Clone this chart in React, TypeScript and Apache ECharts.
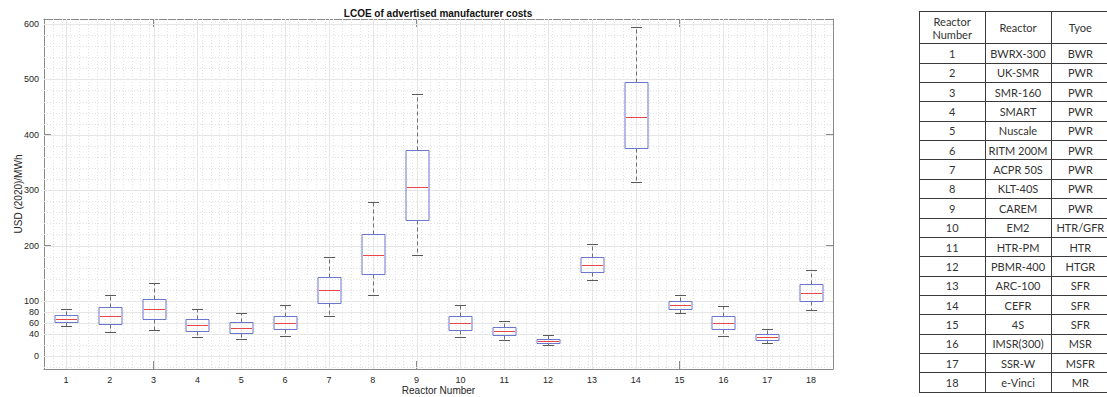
import React, { useEffect, useRef } from 'react';
import * as echarts from 'echarts';

// ---------- data ----------
const reactorNumbers = ['1', '2', '3', '4', '5', '6', '7', '8', '9', '10', '11', '12', '13', '14', '15', '16', '17', '18'];
const reactorNames = ['BWRX-300', 'UK-SMR', 'SMR-160', 'SMART', 'Nuscale', 'RITM 200M', 'ACPR 50S', 'KLT-40S', 'CAREM', 'EM2', 'HTR-PM', 'PBMR-400', 'ARC-100', 'CEFR', '4S', 'IMSR(300)', 'SSR-W', 'e-Vinci'];
const reactorTypes = ['BWR', 'PWR', 'PWR', 'PWR', 'PWR', 'PWR', 'PWR', 'PWR', 'PWR', 'HTR/GFR', 'HTR', 'HTGR', 'SFR', 'SFR', 'SFR', 'MSR', 'MSFR', 'MR'];

const whiskerLow = [55, 43, 48, 34, 32, 37, 73, 111, 183, 35, 30, 20, 137, 314, 78, 37, 24, 83];
const quartile1 = [61, 58, 67, 45, 42, 49, 96, 148, 246, 47, 38, 24, 152, 376, 85, 49, 29, 99];
const medianValues = [67, 72, 85, 56, 51, 60, 119, 183, 305, 60, 45, 28, 165, 432, 92, 60, 34, 114];
const quartile3 = [74, 89, 104, 68, 61, 73, 143, 221, 372, 72, 52, 32, 180, 495, 99, 72, 40, 130];
const whiskerHigh = [85, 111, 133, 86, 78, 92, 180, 279, 473, 92, 64, 39, 203, 594, 110, 90, 49, 155];

const yTickValues = [0, 40, 60, 80, 100, 200, 300, 400, 500, 600];
const yMin = -23;
const yMax = 609;

const tableHeaders = ['Reactor\nNumber', 'Reactor', 'Tyoe'];

// ---------- styles ----------
const AXIS_COLOR = '#8a8a8a';
const TEXT_COLOR = '#262626';
const FONT = '"Liberation Sans", Arial, sans-serif';

const crisp = (v: number) => Math.round(v) + 0.5;

function buildTable(): any[] {
  const left = 919;
  const colX = [919, 985.3, 1050.7, 1110];
  const top = 11;
  const headerBottom = 43.3;
  const bottom = 391.7;
  const rowH = (bottom - headerBottom) / reactorNumbers.length;
  const els: any[] = [];
  const lineStyle = { stroke: '#3a3a3a', lineWidth: 1 };
  const ys = [top, headerBottom];
  for (let i = 1; i <= reactorNumbers.length; i++) ys.push(headerBottom + i * rowH);
  ys.forEach((y) => {
    els.push({ type: 'line', shape: { x1: left, y1: crisp(y), x2: 1110, y2: crisp(y) }, style: lineStyle, silent: true });
  });
  colX.slice(0, 3).forEach((x) => {
    els.push({ type: 'line', shape: { x1: crisp(x), y1: crisp(top), x2: crisp(x), y2: crisp(bottom) }, style: lineStyle, silent: true });
  });
  const centers = [(colX[0] + colX[1]) / 2, (colX[1] + colX[2]) / 2, (colX[2] + colX[3]) / 2];
  const tfont = '11px Lato, "Open Sans", sans-serif';
  tableHeaders.forEach((h, c) => {
    els.push({
      type: 'text', x: centers[c], y: (top + headerBottom) / 2 + 0.5, silent: true,
      style: { text: h, font: tfont, fill: '#333333', align: 'center', verticalAlign: 'middle', lineHeight: 13 },
    });
  });
  reactorNumbers.forEach((n, r) => {
    const cy = headerBottom + (r + 0.5) * rowH + 0.5;
    [n, reactorNames[r], reactorTypes[r]].forEach((t, c) => {
      els.push({
        type: 'text', x: centers[c], y: cy, silent: true,
        style: { text: t, font: tfont, fill: '#333333', align: 'center', verticalAlign: 'middle' },
      });
    });
  });
  return els;
}

export default function App() {
  const ref = useRef<HTMLDivElement>(null);

  useEffect(() => {
    document.body.style.margin = '0';
    if (!ref.current) return;
    const chart = echarts.init(ref.current, null, { renderer: 'svg' });

    const boxData = reactorNumbers.map((_, i) => [i, whiskerLow[i], quartile1[i], medianValues[i], quartile3[i], whiskerHigh[i]]);

    const option: any = {
      animation: false,
      backgroundColor: '#ffffff',
      textStyle: { fontFamily: FONT },
      grid: { left: 44, top: 19, width: 789, height: 350, containLabel: false, outerBoundsMode: 'none' },
      xAxis: [
        {
          type: 'category',
          data: reactorNumbers,
          boundaryGap: true,
          position: 'bottom',
          name: 'Reactor Number',
          nameLocation: 'middle',
          nameGap: 16.5,
          nameMoveOverlap: false,
          nameTextStyle: { fontSize: 10, color: TEXT_COLOR, fontFamily: FONT },
          axisLine: { show: true, onZero: false, lineStyle: { color: AXIS_COLOR, width: 1 } },
          axisTick: { show: true, inside: true, alignWithLabel: true, length: 8, lineStyle: { color: AXIS_COLOR } },
          axisLabel: { fontSize: 9, color: TEXT_COLOR, margin: 6, fontFamily: FONT },
          splitLine: { show: false },
        },
        {
          type: 'category',
          data: reactorNumbers,
          boundaryGap: true,
          position: 'top',
          axisLine: { show: true, onZero: false, lineStyle: { color: AXIS_COLOR, width: 1 } },
          axisTick: { show: true, inside: true, alignWithLabel: true, length: 8, lineStyle: { color: AXIS_COLOR } },
          axisLabel: { show: false },
          splitLine: { show: false },
        },
      ],
      yAxis: [
        {
          type: 'value',
          min: yMin,
          max: yMax,
          position: 'left',
          name: 'USD (2020)/MWh',
          nameLocation: 'middle',
          nameGap: 21,
          nameMoveOverlap: false,
          nameTextStyle: { fontSize: 10, color: TEXT_COLOR, fontFamily: FONT },
          axisLine: { show: true, onZero: false, lineStyle: { color: AXIS_COLOR, width: 1 } },
          axisTick: { show: true, inside: true, length: 7, customValues: yTickValues, lineStyle: { color: AXIS_COLOR } },
          axisLabel: { fontSize: 9, color: TEXT_COLOR, margin: 5, customValues: yTickValues, fontFamily: FONT },
          splitLine: { show: false },
        },
        {
          type: 'value',
          min: yMin,
          max: yMax,
          position: 'right',
          axisLine: { show: true, onZero: false, lineStyle: { color: AXIS_COLOR, width: 1 } },
          axisTick: { show: true, inside: true, length: 7, customValues: yTickValues, lineStyle: { color: AXIS_COLOR } },
          axisLabel: { show: false },
          splitLine: { show: false },
        },
      ],
      series: [
        {
          type: 'custom',
          name: 'grid',
          silent: true,
          z: 1,
          xAxisIndex: 0,
          yAxisIndex: 0,
          data: [[0, 0]],
          encode: { x: 0, y: 1 },
          renderItem: (params: any, api: any) => {
            const cs = params.coordSys;
            const step = cs.width / reactorNumbers.length;
            const children: any[] = [];
            const x0 = cs.x, x1 = cs.x + cs.width, y0 = cs.y, y1 = cs.y + cs.height;
            for (let j = 1; j < reactorNumbers.length * 5; j++) {
              const u = j / 5;
              const rel = u - 0.5;
              if (Math.abs(rel - Math.round(rel)) < 1e-6) continue;
              const x = crisp(x0 + u * step);
              children.push({ type: 'line', shape: { x1: x, y1: y0, x2: x, y2: y1 }, style: { stroke: '#e2e2e2', lineWidth: 1, lineDash: [1, 2] } });
            }
            for (let v = -20; v <= 600; v += 20) {
              if (yTickValues.indexOf(v) >= 0) continue;
              const y = crisp(api.coord([0, v])[1]);
              children.push({ type: 'line', shape: { x1: x0, y1: y, x2: x1, y2: y }, style: { stroke: '#e2e2e2', lineWidth: 1, lineDash: [1, 2] } });
            }
            for (let i = 0; i < reactorNumbers.length; i++) {
              const x = crisp(api.coord([i, 0])[0]);
              children.push({ type: 'line', shape: { x1: x, y1: y0, x2: x, y2: y1 }, style: { stroke: '#e6e6e6', lineWidth: 1 } });
            }
            yTickValues.forEach((v) => {
              const y = crisp(api.coord([0, v])[1]);
              children.push({ type: 'line', shape: { x1: x0, y1: y, x2: x1, y2: y }, style: { stroke: '#e6e6e6', lineWidth: 1 } });
            });
            return { type: 'group', children };
          },
        },
        {
          type: 'custom',
          name: 'LCOE',
          z: 3,
          xAxisIndex: 0,
          yAxisIndex: 0,
          data: boxData,
          encode: { x: 0, y: [1, 2, 3, 4, 5] },
          renderItem: (params: any, api: any) => {
            const idx = api.value(0);
            const pLow = api.coord([idx, api.value(1)]);
            const pQ1 = api.coord([idx, api.value(2)]);
            const pMed = api.coord([idx, api.value(3)]);
            const pQ3 = api.coord([idx, api.value(4)]);
            const pHigh = api.coord([idx, api.value(5)]);
            const band = api.size([1, 0])[0];
            const x = crisp(pMed[0]);
            const bw = Math.round(band * 0.52);
            const cw = Math.round(band * 0.25);
            const yLow = crisp(pLow[1]);
            const yQ1 = crisp(pQ1[1]);
            const yMed = crisp(pMed[1]);
            const yQ3 = crisp(pQ3[1]);
            const yHigh = crisp(pHigh[1]);
            const dash = { stroke: '#6e6e6e', lineWidth: 1, lineDash: [4, 3] };
            const cap = { stroke: '#5a5a5a', lineWidth: 1 };
            return {
              type: 'group',
              children: [
                { type: 'line', shape: { x1: x, y1: yQ3, x2: x, y2: yHigh }, style: dash },
                { type: 'line', shape: { x1: x, y1: yQ1, x2: x, y2: yLow }, style: dash },
                { type: 'line', shape: { x1: x - cw / 2, y1: yHigh, x2: x + cw / 2, y2: yHigh }, style: cap },
                { type: 'line', shape: { x1: x - cw / 2, y1: yLow, x2: x + cw / 2, y2: yLow }, style: cap },
                { type: 'rect', shape: { x: x - bw / 2, y: yQ3, width: bw, height: yQ1 - yQ3 }, style: { fill: 'rgba(0,0,0,0)', stroke: '#6b77cc', lineWidth: 1 } },
                { type: 'line', shape: { x1: x - bw / 2 + 1, y1: yMed, x2: x + bw / 2 - 1, y2: yMed }, style: { stroke: '#e8474a', lineWidth: 1 } },
              ],
            };
          },
        },
      ],
      graphic: [
        {
          type: 'text',
          x: 438,
          y: 13,
          silent: true,
          style: { text: 'LCOE of advertised manufacturer costs', font: 'bold 10px "Liberation Sans", Arial, sans-serif', fill: '#111', align: 'center', verticalAlign: 'middle' },
        },
        ...buildTable(),
      ],
    };

    chart.setOption(option);
    return () => chart.dispose();
  }, []);

  return <div ref={ref} style={{ position: 'absolute', left: 0, top: 0, width: 1107, height: 397 }} />;
}
